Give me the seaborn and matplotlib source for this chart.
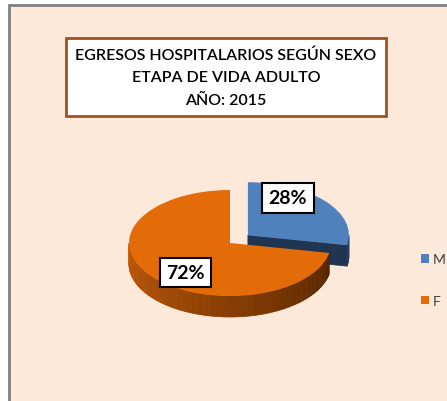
import numpy as np
import seaborn as sns
import matplotlib.pyplot as plt
from matplotlib.patches import Polygon, Patch, Rectangle

# data
sexos = ['M', 'F']
porcentajes = [28, 72]
etiquetas = ['28%', '72%']
colores_top = ['#4F81BD', '#E36C09']
titulo = 'EGRESOS HOSPITALARIOS SEGÚN SEXO\nETAPA DE VIDA ADULTO\nAÑO: 2015'

sns.set_style('white')
plt.rcParams['font.family'] = ['Lato', 'DejaVu Sans']

W, H = 447, 402
fig = plt.figure(figsize=(W / 100, H / 100), dpi=100)
fig.patch.set_facecolor('white')

# chart area (peach) with grey frame on left / top
fondo = Rectangle((9 / W, -0.05), 1.1, (H - 6) / H + 0.05, transform=fig.transFigure,
                  facecolor='#FDE9D9', edgecolor='#808080', linewidth=2, zorder=-5)
fig.patches.append(fondo)

# pie axes: ellipse centre (230, 244) px, rx 101, ry 53
cx, cy, rx, ry = 230, H - 244, 101, 53
ax = fig.add_axes([(cx - 1.25 * rx) / W, (cy - 1.25 * ry) / H, 2.5 * rx / W, 2.5 * ry / H])
ax.patch.set_alpha(0)
explode = [0.23, 0]
wedges, _ = ax.pie(porcentajes, startangle=90, counterclock=False, explode=explode,
                   colors=colores_top, wedgeprops=dict(linewidth=0, zorder=3))
ax.set_aspect('auto')
ax.set_xlim(-1.25, 1.25)
ax.set_ylim(-1.25, 1.25)
ax.axis('off')

depth = 21 / ry


def pared(t1, t2, dx, dy, cols, z):
    ts = np.linspace(t1, t2, len(cols) + 1)
    for i, c in enumerate(cols):
        a, b = np.radians(ts[i]), np.radians(ts[i + 1])
        pts = [(dx + np.cos(a), dy + np.sin(a)), (dx + np.cos(b), dy + np.sin(b)),
               (dx + np.cos(b), dy + np.sin(b) - depth), (dx + np.cos(a), dy + np.sin(a) - depth)]
        ax.add_patch(Polygon(pts, closed=True, facecolor=c, edgecolor=c, lw=0.5,
                             zorder=z, clip_on=False))


def visible(t1, t2):
    # part of [t1, t2] (degrees) lying on the front half (-180..0)
    t1, t2 = t1 % 360 - 360, t2 % 360 - 360
    if t2 <= t1:
        t2 += 360
    return max(t1, -180), min(t2, 0)


# side walls built from the wedge angles
for i, (w, e) in enumerate(zip(wedges, explode)):
    mid = np.radians((w.theta1 + w.theta2) / 2)
    dx, dy = e * np.cos(mid), e * np.sin(mid)
    lo, hi = visible(w.theta1, w.theta2)
    if i == 0:
        # blue slice: radial cut face plus short rim
        a = np.radians(w.theta1)
        face = [(dx, dy), (dx + np.cos(a), dy + np.sin(a)),
                (dx + np.cos(a), dy + np.sin(a) - depth), (dx, dy - depth)]
        ax.add_patch(Polygon(face, closed=True, facecolor='#1F3552', edgecolor='#1F3552',
                             lw=0.5, zorder=1, clip_on=False))
        if lo < hi:
            pared(lo, hi, dx, dy, ['#243F60'] * 5, 1.2)
    else:
        cols = sns.blend_palette(['#C25A0A', '#8A3E02', '#552500'], 120)
        pared(lo, hi, dx, dy, cols, 1.5)

# percentage labels
pos = [(0.574, 0.85), (-0.44, -0.557)]
for txt, (x, y) in zip(etiquetas, pos):
    ax.text(x, y, txt, ha='center', va='center', fontsize=14, fontweight='bold',
            color='black', zorder=5,
            bbox=dict(boxstyle='square,pad=0.33', facecolor='white', edgecolor='black', lw=1.5))

# title box
fig.text(226 / W, 1 - 78 / H, titulo, ha='center', va='center', fontsize=11.5,
         linespacing=1.75, color='black', fontweight='semibold',
         bbox=dict(boxstyle='square,pad=0.6', facecolor='white', edgecolor='#A0521E', lw=2))

# legend
handles = [Patch(facecolor=c, edgecolor='none') for c in colores_top]
fig.legend(handles, sexos, loc='center left', bbox_to_anchor=(408 / W, 1 - 281 / H),
           frameon=False, fontsize=10, handlelength=0.6, handleheight=0.6,
           handletextpad=0.3, labelspacing=2.15, labelcolor='#404040')

fig.savefig('out.png', dpi=100, facecolor=fig.get_facecolor())
